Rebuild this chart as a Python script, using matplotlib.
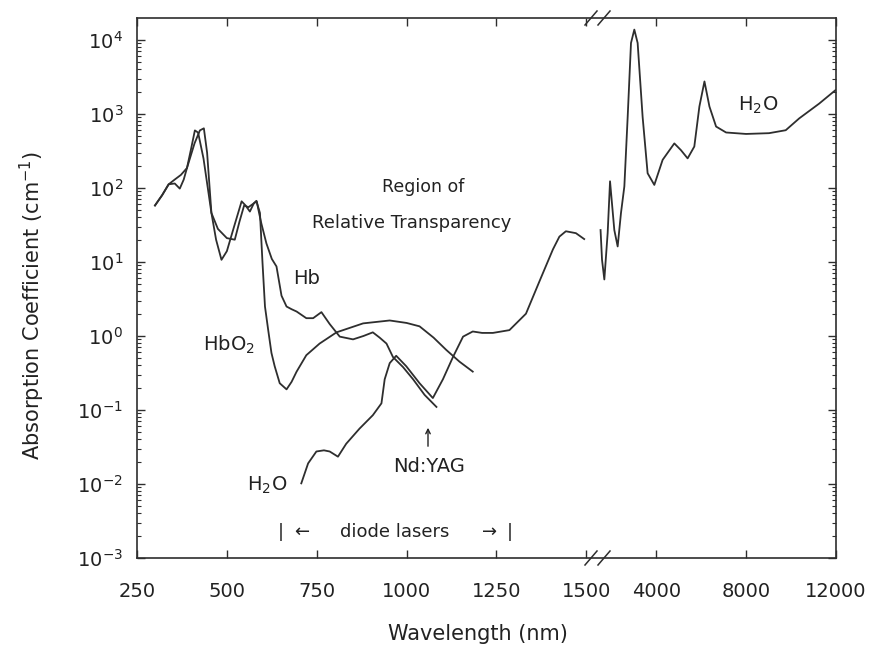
import numpy as np
import matplotlib
matplotlib.use('Agg')
import matplotlib.pyplot as plt
from matplotlib.ticker import LogLocator, NullFormatter, NullLocator
from matplotlib.lines import Line2D

plt.rcParams['font.family'] = ['DejaVu Sans']
plt.rcParams['mathtext.default'] = 'regular'

# ---------------- data ----------------
hbo2_wl = [300, 320, 338, 355, 372, 389, 400, 411, 420, 435, 457, 470, 485, 500, 520,
           541, 552, 564, 575, 582, 592, 599, 606, 615, 624, 633, 647, 666, 680, 694,
           721, 758, 805, 879, 953, 1000, 1036, 1075, 1110, 1147, 1184]
hbo2_mu = [58, 80, 112, 130, 150, 186, 330, 600, 560, 250, 46, 20, 10.7, 14, 30,
           66, 58, 48, 62, 67, 46, 10, 2.5, 1.2, 0.59, 0.39, 0.23, 0.19, 0.24, 0.33,
           0.55, 0.79, 1.12, 1.48, 1.62, 1.5, 1.35, 0.95, 0.65, 0.45, 0.33]

hb_wl = [300, 320, 338, 355, 369, 380, 389, 410, 425, 436, 445, 457, 475, 500, 522,
         535, 548, 560, 575, 583, 590, 596, 610, 625, 638, 652, 666, 680, 694, 721,
         740, 763, 786, 814, 851, 880, 906, 925, 944, 962, 990, 1018, 1050, 1083]
hb_mu = [58, 80, 112, 115, 98, 130, 186, 400, 600, 640, 300, 46, 28, 21, 20,
         35, 58, 55, 62, 66, 45, 33, 17.8, 11, 8.7, 3.5, 2.5, 2.3, 2.14, 1.74,
         1.74, 2.1, 1.45, 0.98, 0.9, 1.0, 1.12, 0.95, 0.79, 0.52, 0.38, 0.26, 0.16, 0.11]

h2o_vis_wl = [707, 726, 749, 770, 786, 809, 832, 869, 906, 930, 939, 953, 971, 999,
              1036, 1073, 1101, 1129, 1157, 1184, 1210, 1240, 1286, 1332, 1369, 1407,
              1425, 1443, 1471, 1494]
h2o_vis_mu = [0.0102, 0.019, 0.0275, 0.0285, 0.0275, 0.0234, 0.035, 0.056, 0.085, 0.123,
              0.26, 0.43, 0.54, 0.39, 0.23, 0.145, 0.26, 0.52, 0.98, 1.15, 1.1, 1.1,
              1.2, 2.0, 5.4, 14.8, 22, 26, 24.5, 20.4]

h2o_ir_wl = [1510, 1575, 1678, 1826, 1932, 2123, 2272, 2420, 2570, 2718, 2866, 3014,
             3162, 3384, 3607, 3905, 4276, 4796, 5093, 5389, 5687, 5913, 6139, 6361,
             6657, 7102, 7992, 9016, 9760, 10360, 11250, 11970]
h2o_ir_mu = [27, 10.7, 5.8, 24.5, 123, 27, 16.2, 46, 105, 912, 9100, 13800,
             9100, 912, 158, 110, 240, 400, 324, 251, 363, 1260, 2750, 1260,
             676, 562, 537, 550, 603, 871, 1380, 2090]

x_ticks = [250, 500, 750, 1000, 1250, 1500, 4000, 8000, 12000]
x_tick_labels = ['250', '500', '750', '1000', '1250', '1500', '4000', '8000', '12000']

# ---------------- broken x scale ----------------
BREAK = 1500.0
LPX = 90.0 / 250.0        # px per nm, left part
RPX = 236.0 / 10500.0     # px per nm, right part
GAP = 14.0
UB = (BREAK - 250.0) * LPX


def fwd(x):
    x = np.asarray(x, float)
    return np.where(x <= BREAK, (x - 250.0) * LPX, UB + GAP + (x - BREAK) * RPX)


def inv(u):
    u = np.asarray(u, float)
    return np.where(u <= UB, 250.0 + u / LPX,
                    np.where(u < UB + GAP, BREAK, BREAK + (u - UB - GAP) / RPX))


W, H = 872, 649
fig = plt.figure(figsize=(W / 100, H / 100), dpi=100)
L, R, T, B = 137, 836, 18, 558
ax = fig.add_axes([L / W, 1 - B / H, (R - L) / W, (B - T) / H])
ax.set_xscale('function', functions=(fwd, inv))
ax.set_yscale('log')

col = '#2e2e2e'
lw = 1.3
ax.plot(hbo2_wl, hbo2_mu, color=col, lw=lw)
ax.plot(hb_wl, hb_mu, color=col, lw=lw)
ax.plot(h2o_vis_wl, h2o_vis_mu, color=col, lw=lw)
ax.plot(h2o_ir_wl, h2o_ir_mu, color=col, lw=lw)

ax.set_xlim(250, 12000)
ax.set_ylim(1e-3, 1.98e4)
ax.set_xticks(x_ticks)
ax.set_xticklabels(x_tick_labels)
ax.xaxis.set_minor_locator(NullLocator())
ax.yaxis.set_major_locator(LogLocator(base=10, numticks=20))
ax.yaxis.set_minor_locator(LogLocator(base=10, subs=np.arange(2, 10), numticks=20))
ax.yaxis.set_minor_formatter(NullFormatter())

ax.tick_params(which='both', direction='in', top=True, right=True, colors=col,
               labelcolor='#222222')
ax.tick_params(which='major', length=6, width=1.0, labelsize=14)
ax.tick_params(axis='x', which='major', pad=17)
ax.tick_params(axis='y', which='major', pad=10)
ax.tick_params(which='minor', length=3, width=0.8)
for s in ax.spines.values():
    s.set_color(col)
    s.set_linewidth(1.2)


def px(x, y):
    return x / W, 1 - y / H


tc = '#222222'
fig.text(*px(32, 305), 'Absorption Coefficient (cm$^{-1}$)', rotation=90,
         ha='center', va='center', fontsize=15, color=tc)
fig.text(*px(478, 634), 'Wavelength (nm)', ha='center', va='center', fontsize=15, color=tc)

fig.text(*px(423, 187), 'Region of', ha='center', va='center', fontsize=12.5, color=tc)
fig.text(*px(412, 223), 'Relative Transparency', ha='center', va='center', fontsize=13, color=tc)
fig.text(*px(307, 278), 'Hb', ha='center', va='center', fontsize=14, color=tc)
fig.text(*px(229, 345), 'HbO$_2$', ha='center', va='center', fontsize=14, color=tc)
fig.text(*px(267, 485), 'H$_2$O', ha='center', va='center', fontsize=14, color=tc)
fig.text(*px(758, 105), 'H$_2$O', ha='center', va='center', fontsize=14, color=tc)
fig.text(*px(429, 467), 'Nd:YAG', ha='center', va='center', fontsize=14, color=tc)
fig.add_artist(matplotlib.patches.FancyArrowPatch(px(428, 449), px(428, 425),
               transform=fig.transFigure, arrowstyle='->', mutation_scale=8,
               color=tc, lw=1.0))

dy = 532
fig.text(*px(281, dy), '|', ha='center', va='center', fontsize=13, color=tc)
fig.text(*px(302, dy), '\u2190', ha='center', va='center', fontsize=13, color=tc)
fig.text(*px(395, dy), 'diode lasers', ha='center', va='center', fontsize=13, color=tc)
fig.text(*px(490, dy), '\u2192', ha='center', va='center', fontsize=13, color=tc)
fig.text(*px(510, dy), '|', ha='center', va='center', fontsize=13, color=tc)

# break marks on top and bottom spines
for yb in (T, B):
    for xb in (591, 604):
        fig.add_artist(Line2D([(xb - 6) / W, (xb + 6) / W],
                              [1 - (yb + 7) / H, 1 - (yb - 7) / H],
                              transform=fig.transFigure, color=col, lw=1.1))

fig.savefig('out.png', dpi=100)
